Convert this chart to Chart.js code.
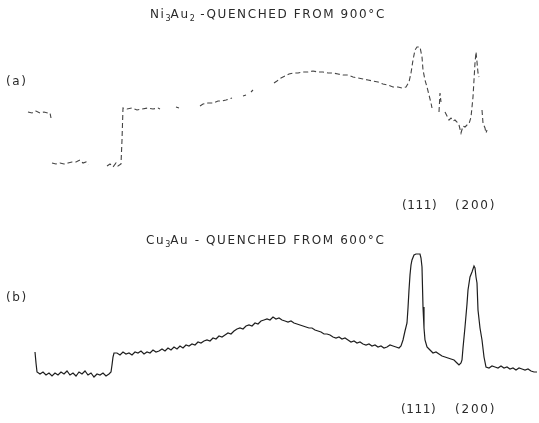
<!DOCTYPE html>
<html>
<head>
<meta charset="utf-8">
<script src="https://cdn.jsdelivr.net/npm/chart.js@4"></script>
<style>
  body { margin: 0; background: #fff; }
  #wrap { position: relative; width: 539px; height: 423px; }
  .txt {
    position: absolute;
    font-family: "DejaVu Sans", sans-serif;
    font-size: 12px;
    color: #2a2a2a;
    letter-spacing: 1.6px;
    white-space: nowrap;
  }
  .txt sub { font-size: 8px; letter-spacing: 0; }
  .hkl { letter-spacing: 0.6px; }
  .hkl2 { letter-spacing: 1.8px; }
</style>
</head>
<body>
<div id="wrap">
  <canvas id="traces"></canvas>
  <div class="txt" style="left:150px;top:7px">Ni<sub>3</sub>Au<sub>2</sub> -QUENCHED FROM 900°C</div>
  <div class="txt" style="left:6px;top:74px">(a)</div>
  <div class="txt hkl" style="left:402px;top:198px">(111)</div>
  <div class="txt hkl2" style="left:455px;top:198px">(200)</div>
  <div class="txt" style="left:146px;top:233px">Cu<sub>3</sub>Au - QUENCHED FROM 600°C</div>
  <div class="txt" style="left:6px;top:290px">(b)</div>
  <div class="txt hkl" style="left:401px;top:402px">(111)</div>
  <div class="txt hkl2" style="left:455px;top:402px">(200)</div>
</div>
<script>
// (a) Ni3Au2 quenched from 900C, scan position vs intensity (arb. units), null = pen gap
const scanA = [28, 32, 36, 40, 44, 48, 50, 51, 51.5,
  52, 56, 60, 64, 68, 72, 76, 80, 83, 86, 88, 97,
  107, 110, 113, 116, 118, 121, 122, 123, 127, 132, 137, 142, 148, 153, 158, 160, 168,
  176, 179, 190,
  200, 203, 208, 213, 218, 222, 226, 232, 238, 243, 246, 249, 251, 253, 262,
  274, 277, 281, 285, 289, 293, 298, 303, 308, 313, 318, 323, 328, 333, 338, 343, 348,
  353, 358, 363, 368, 373, 378, 383, 388, 393, 398, 402, 406, 409, 411, 413, 415, 417,
  420, 422, 423, 425, 427, 429, 431, 432, 435,
  439, 440, 441, 443,
  445, 447, 449, 451, 453, 455, 457, 459, 461, 463, 465, 467, 469, 471, 473, 475, 476,
  477, 478, 479, 480.5, 482, 483, 485, 486, 487];
const intensityA = [103, 102, 104, 102, 103, 102, 102, 97, null,
  52, 51, 52, 51, 52, 53, 53, 55, 52, 53, 50, null,
  49, 51, 48, 52, 49, 51, 75, 107, 106, 107, 105, 106, 107, 106, 107, 106, null,
  108, 107, null,
  109, 111, 112, 112, 114, 114, 115, 117, null, 119, 120, null, 123, 125, null,
  132, 134, 137, 139, 141, 142, 142, 143, 143, 144, 143, 143, 142, 142, 141, 140, 140,
  138, 137, 136, 135, 134, 133, 131, 130, 128, 128, 127, 128, 133, 142, 155, 165, 168,
  168, 158, 145, 135, 128, 120, 112, 107, null,
  103, 122, 113, null,
  103, 99, 95, 97, 94, 95, 93, 90, 82, 89, 88, 90, 91, 98, 118, 152, 163,
  153, 142, 138, null, 105, 92, 87, 82, 85];

// (b) Cu3Au quenched from 600C
const scanB = [35, 36, 37, 40, 43, 46, 49, 52, 55, 58, 61, 64, 67, 70, 73, 76, 79, 82, 85, 88,
  91, 94, 97, 100, 103, 106, 109, 111, 112, 113, 114, 117, 120, 123, 126, 129, 132, 135, 138,
  141, 144, 147, 150, 153, 156, 159, 162, 165, 168, 171, 174, 177, 180, 183, 186, 189, 192,
  195, 198, 201, 204, 207, 210, 213, 216, 219, 222, 225, 228, 231, 234, 237, 240, 243, 246,
  249, 252, 255, 258, 261, 264, 267, 270, 273, 276, 279, 282, 285, 288, 291, 294, 297, 300,
  303, 306, 309, 312, 315, 318, 321, 324, 327, 330, 333, 336, 339, 342, 345, 348, 351, 354,
  357, 360, 363, 366, 369, 372, 375, 378, 381, 384, 387, 390, 393, 396, 399, 401, 403, 405,
  407, 408, 409, 410, 411, 412, 414, 416, 418, 420, 421, 422, 423, 424, 425, 427, 429, 431,
  433, 436, 439, 442, 445, 448, 451, 454, 457, 459, 461, 462, 463, 465, 467, 468, 470, 472,
  474, 475, 476, 477, 478, 480, 482, 484, 486, 489, 492, 495, 498, 501, 504, 507, 510, 513,
  516, 519, 522, 525, 528, 531, 534, 537];
const intensityB = [71, 60, 51, 49, 51, 48, 50, 47, 50, 48, 51, 49, 52, 48, 50, 47, 51, 49, 52, 48,
  50, 46, 49, 48, 50, 47, 49, 51, 58, 66, 70, 70, 68, 71, 69, 70, 68, 71, 70,
  72, 69, 71, 70, 73, 71, 72, 74, 72, 75, 73, 76, 74, 77, 75, 78, 77, 79,
  78, 81, 80, 82, 83, 82, 85, 84, 87, 86, 88, 90, 89, 92, 94, 95, 94, 97,
  98, 97, 100, 99, 102, 103, 104, 103, 106, 104, 105, 103, 102, 101, 102, 100, 99, 98,
  97, 96, 95, 95, 93, 92, 91, 89, 89, 88, 86, 85, 86, 84, 85, 83, 81, 82,
  80, 81, 79, 78, 79, 77, 78, 76, 77, 75, 76, 78, 77, 76, 75, 77, 83, 92,
  100, 115, 133, 148, 158, 163, 168, 169, 169, 169, 165, 156, 116, 95, 83, 76, 74, 72,
  70, 71, 69, 67, 66, 65, 64, 63, 60, 58, 60, 63, 75, 96, 119, 133, 146, 151,
  157, 155, 146, 140, 113, 95, 83, 66, 56, 55, 57, 56, 55, 57, 55, 56, 54, 55,
  53, 55, 54, 53, 54, 52, 51, 51];

const toPoints = (xs, ys) => xs.map((x, i) => ({ x: x, y: ys[i] }));

const ctx = document.getElementById("traces").getContext("2d");
new Chart(ctx, {
  type: "line",
  data: {
    datasets: [
      {
        label: "(a) Ni3Au2",
        data: toPoints(scanA, intensityA),
        yAxisID: "ya",
        borderColor: "#444444",
        borderWidth: 1.1,
        borderDash: [5, 3],
        pointRadius: 0,
        spanGaps: false,
      },
      {
        label: "(b) Cu3Au",
        data: toPoints(scanB, intensityB),
        yAxisID: "yb",
        borderColor: "#1e1e1e",
        borderWidth: 1.2,
        pointRadius: 0,
      },
    ],
  },
  options: {
    responsive: true,
    maintainAspectRatio: false,
    animation: false,
    layout: { padding: 0 },
    elements: { line: { tension: 0 } },
    scales: {
      x: { type: "linear", min: 0, max: 539, display: false },
      // top trace sits on the upper half, bottom trace on the lower half
      ya: { min: -208, max: 215, display: false },
      yb: { min: 0, max: 423, display: false },
    },
    plugins: {
      legend: { display: false },
      tooltip: { enabled: false },
    },
  },
});
</script>
</body>
</html>
